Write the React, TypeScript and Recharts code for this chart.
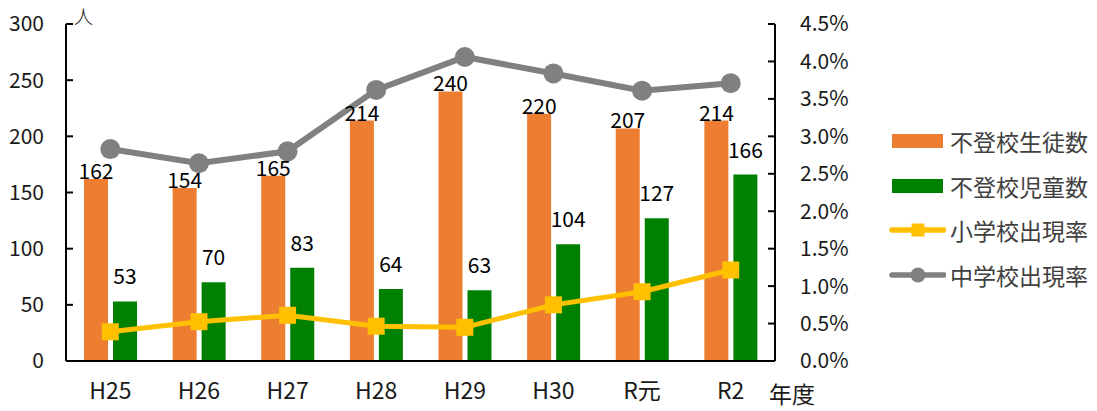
import {Bar, ComposedChart, LabelList, Line, XAxis, YAxis} from "recharts";

const years = ['H25', 'H26', 'H27', 'H28', 'H29', 'H30', 'R元', 'R2'];
const juniorHighAbsent = [162, 154, 165, 214, 240, 220, 207, 214];
const elementaryAbsent = [53, 70, 83, 64, 63, 104, 127, 166];
const elementaryRate = [0.0039, 0.00525, 0.0061, 0.00465, 0.0045, 0.0075, 0.00925, 0.01215];
const juniorHighRate = [0.0283, 0.0264, 0.028, 0.0362, 0.0406, 0.0384, 0.0361, 0.0371];
const countTicks = [0, 50, 100, 150, 200, 250, 300];
const rateTicks = [0, 0.005, 0.01, 0.015, 0.02, 0.025, 0.03, 0.035, 0.04, 0.045];

const data = years.map((year, i) => ({
    year,
    junior: juniorHighAbsent[i],
    elem: elementaryAbsent[i],
    elemRate: elementaryRate[i],
    juniorRate: juniorHighRate[i],
}));

const FONT = "'Noto Sans CJK JP', 'Noto Sans', sans-serif";
const ORANGE = "#ED7D31";
const GREEN = "#008000";
const YELLOW = "#FFC000";
const GRAY = "#808080";
const TEXT = "#1a1a1a";

const SquareDot = (props: any) => {
    const {cx, cy} = props;
    if (cx == null || cy == null) return null;
    return <rect x={cx - 8.5} y={cy - 8.5} width={17} height={17} fill={YELLOW}/>;
};

const legendItems = [
    {name: '不登校生徒数', kind: 'bar', color: ORANGE},
    {name: '不登校児童数', kind: 'bar', color: GREEN},
    {name: '小学校出現率', kind: 'square', color: YELLOW},
    {name: '中学校出現率', kind: 'circle', color: GRAY},
];

// legend drawn beside the plot, outside the chart's own layout
const ChartLegend = () => (
    <div style={{position: "absolute", left: 888, top: 119, fontFamily: FONT, fontSize: 23, color: "#404040"}}>
        {legendItems.map((item) => (
            <div key={item.name} style={{display: "flex", alignItems: "center", height: 44.5}}>
                <svg width={58} height={20} style={{marginRight: 4}}>
                    {item.kind === 'bar' ? (
                        <rect x={4} y={3} width={51} height={14} fill={item.color}/>
                    ) : (
                        <g>
                            <line x1={4} y1={10} x2={56} y2={10} stroke={item.color} strokeWidth={5.5} strokeLinecap="round"/>
                            {item.kind === 'square'
                                ? <rect x={23.5} y={3.5} width={13} height={13} fill={item.color}/>
                                : <circle cx={30} cy={10} r={7.5} fill={item.color}/>}
                        </g>
                    )}
                </svg>
                <span>{item.name}</span>
            </div>
        ))}
    </div>
);

const pct = (v: number) => (v * 100).toFixed(1) + "%";

const App = () => {
    return (
        <div style={{position: "absolute", left: 0, top: 0, width: 1097, height: 411, background: "#fff"}}>
            <ComposedChart
                width={1097}
                height={411}
                data={data}
                margin={{top: 24, right: 0, left: 0, bottom: 20}}
                barGap={5}
                style={{fontFamily: FONT}}
            >
                <XAxis
                    dataKey="year"
                    height={30}
                    tickLine={false}
                    tickSize={0}
                    tickMargin={22}
                    axisLine={{stroke: "#000", strokeWidth: 2}}
                    tick={{fill: TEXT, fontSize: 23}}
                />
                {/* ticks point inwards on both value axes */}
                <YAxis
                    yAxisId="count"
                    width={66}
                    domain={[0, 300]}
                    ticks={countTicks}
                    interval={0}
                    tickSize={-7}
                    tickMargin={29}
                    axisLine={{stroke: "#000", strokeWidth: 2}}
                    tickLine={{stroke: "#000", strokeWidth: 2}}
                    tick={{fill: TEXT, fontSize: 21}}
                />
                <YAxis
                    yAxisId="rate"
                    orientation="right"
                    width={322}
                    domain={[0, 0.045]}
                    ticks={rateTicks}
                    interval={0}
                    tickFormatter={pct}
                    tickSize={-7}
                    tickMargin={32}
                    axisLine={{stroke: "#000", strokeWidth: 2}}
                    tickLine={{stroke: "#000", strokeWidth: 2}}
                    tick={{fill: TEXT, fontSize: 21, textAnchor: "start"}}
                />
                <Bar yAxisId="count" dataKey="junior" name="不登校生徒数" fill={ORANGE} barSize={24} isAnimationActive={false}>
                    <LabelList dataKey="junior" position="top" offset={0} fill="#000" fontSize={21}/>
                </Bar>
                <Bar yAxisId="count" dataKey="elem" name="不登校児童数" fill={GREEN} barSize={24} isAnimationActive={false}>
                    <LabelList dataKey="elem" position="top" offset={17} fill="#000" fontSize={21}/>
                </Bar>
                <Line yAxisId="rate" dataKey="elemRate" name="小学校出現率" stroke={YELLOW} strokeWidth={5}
                      dot={<SquareDot/>} activeDot={false} isAnimationActive={false}/>
                <Line yAxisId="rate" dataKey="juniorRate" name="中学校出現率" stroke={GRAY} strokeWidth={6}
                      dot={{r: 10, fill: GRAY, stroke: "none"}} activeDot={false} isAnimationActive={false}/>
            </ComposedChart>
            <ChartLegend/>
            <div style={{position: "absolute", left: 74, top: 2, fontFamily: FONT, fontSize: 19, fontWeight: 300, color: TEXT}}>人</div>
            <div style={{position: "absolute", left: 769, top: 376, fontFamily: FONT, fontSize: 23, color: TEXT}}>年度</div>
        </div>
    );
};

export default App;
